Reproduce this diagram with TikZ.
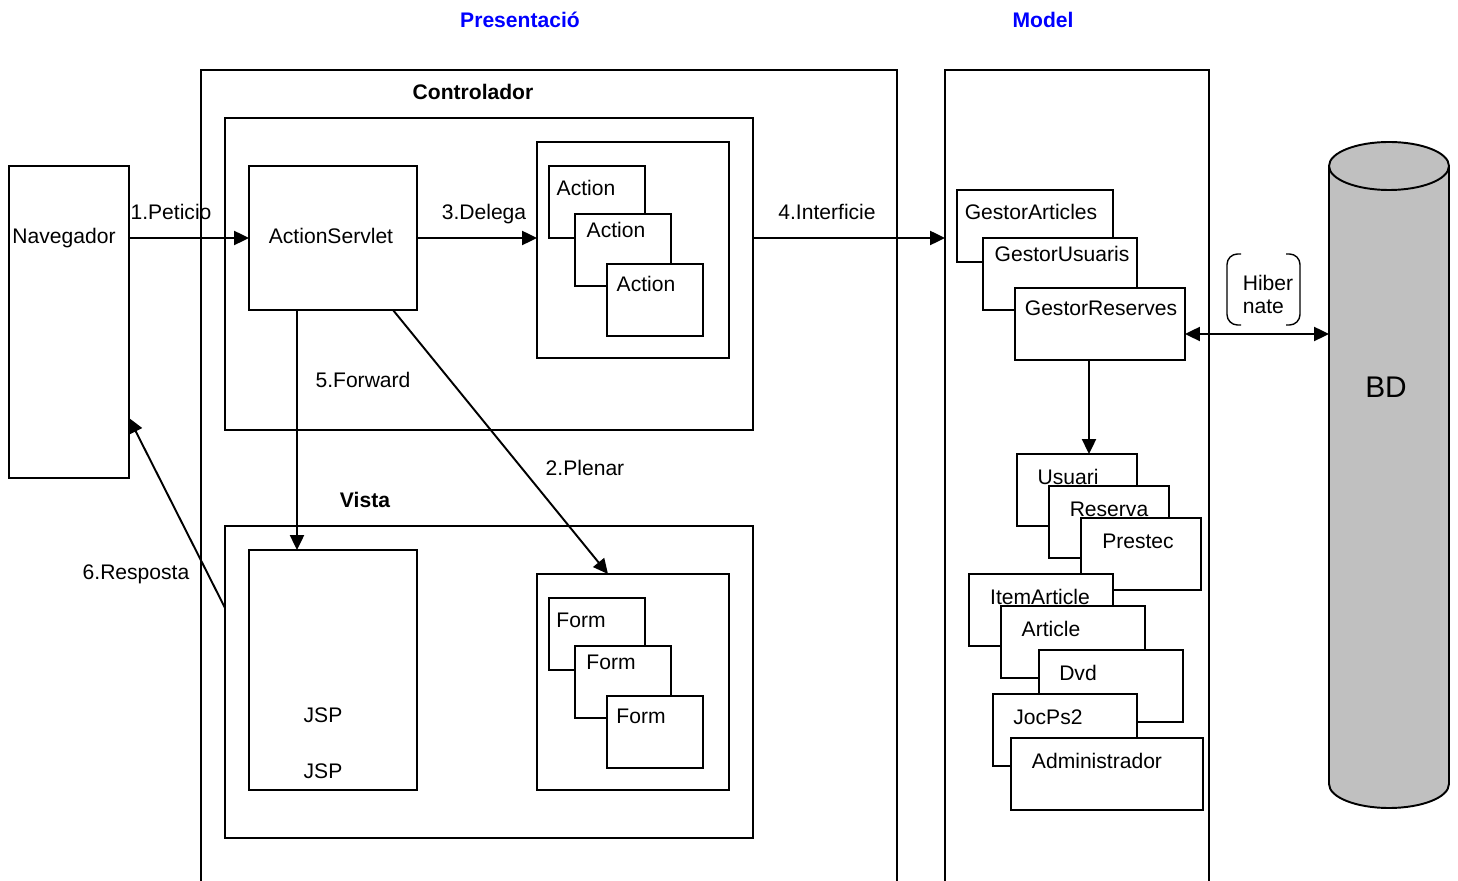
\documentclass[tikz,border=0pt]{standalone}
\usepackage{fontspec}
\setmainfont{Liberation Sans}
\usetikzlibrary{arrows.meta}

\definecolor{titleblue}{RGB}{0,0,255}
\definecolor{dbgray}{RGB}{192,192,192}

\begin{document}
\begin{tikzpicture}[x=0.02cm, y=-0.02cm, line width=1.1pt,
	font=\fontsize{12}{13.6}\selectfont,
	box/.style 2 args={draw=black, fill=white, inner sep=0pt, outer sep=0pt, minimum width=#1, minimum height=#2},
	smallbox/.style={box={1.92cm}{1.44cm}},
	lbl/.style={inner sep=0pt, text height=1.5ex, text depth=.25ex, yshift=-0.04cm},
	title/.style={lbl, font=\fontsize{12}{14}\selectfont\bfseries},
	arr/.style={-{Triangle[length=8.5pt,width=8pt]}},
	dblarr/.style={{Triangle[length=8.5pt,width=8pt]}-{Triangle[length=8.5pt,width=8pt]}}]
	
	\useasboundingbox (0,0) rectangle (1458,881);
	\clip (0,0) rectangle (1458,881);
	
	% layers
	\node[title, text=titleblue] (tpres) at (520, 20) {Presentació};
	\node[title, text=titleblue] (tmodel) at (1043, 20) {Model};
	\node[box={13.92cm}{16.6cm}, fill=none] (pres) at (549, 485) {};
	\node[box={5.28cm}{16.6cm}, fill=none] (model) at (1077, 485) {};
	
	% controlador
	\node[title] (tctrl) at (473, 92) {Controlador};
	\node[box={10.56cm}{6.24cm}] (ctrl) at (489, 274) {};
	\node[box={3.36cm}{2.88cm}] (servlet) at (333, 238) {};
	\node[lbl] (tservlet) at (331, 236) {ActionServlet};
	\node[box={3.84cm}{4.32cm}] (actbox) at (633, 250) {};
	\node[smallbox] (act1) at (597, 202) {};
	\node[lbl] (tact1) at (586, 188) {Action};
	\node[smallbox] (act2) at (623, 250) {};
	\node[lbl] (tact2) at (616, 230) {Action};
	\node[smallbox] (act3) at (655, 300) {};
	\node[lbl] (tact3) at (646, 284) {Action};
	
	% vista
	\node[title] (tvista) at (365, 500) {Vista};
	\node[box={10.56cm}{6.24cm}] (vista) at (489, 682) {};
	\node[box={3.36cm}{4.8cm}] (jsp) at (333, 670) {};
	\node[lbl] (tjsp1) at (323, 715) {JSP};
	\node[lbl] (tjsp2) at (323, 771) {JSP};
	\node[box={3.84cm}{4.32cm}] (formbox) at (633, 682) {};
	\node[smallbox] (form1) at (597, 634) {};
	\node[lbl] (tform1) at (581, 620) {Form};
	\node[smallbox] (form2) at (623, 682) {};
	\node[lbl] (tform2) at (611, 662) {Form};
	\node[smallbox] (form3) at (655, 732) {};
	\node[lbl] (tform3) at (641, 716) {Form};
	
	% navegador
	\node[box={2.4cm}{6.24cm}] (nav) at (69, 322) {};
	\node[lbl] (tnav) at (64, 236) {Navegador};
	
	% model
	\node[box={3.12cm}{1.44cm}] (gart) at (1035, 226) {};
	\node[lbl] (tgart) at (1031, 212) {GestorArticles};
	\node[box={3.08cm}{1.44cm}] (gusu) at (1060, 274) {};
	\node[lbl] (tgusu) at (1062, 254) {GestorUsuaris};
	\node[box={3.4cm}{1.44cm}] (gres) at (1100, 324) {};
	\node[lbl] (tgres) at (1101, 308) {GestorReserves};
	
	\node[box={2.4cm}{1.44cm}] (usuari) at (1077, 490) {};
	\node[lbl] (tusuari) at (1068, 477) {Usuari};
	\node[box={2.4cm}{1.44cm}] (reserva) at (1109, 522) {};
	\node[lbl] (treserva) at (1109, 509) {Reserva};
	\node[box={2.4cm}{1.44cm}] (prestec) at (1141, 554) {};
	\node[lbl] (tprestec) at (1138, 541) {Prestec};
	\node[box={2.88cm}{1.44cm}] (itemart) at (1041, 610) {};
	\node[lbl] (titemart) at (1040, 597) {ItemArticle};
	\node[box={2.88cm}{1.44cm}] (article) at (1073, 642) {};
	\node[lbl] (tarticle) at (1051, 629) {Article};
	\node[box={2.88cm}{1.44cm}] (dvd) at (1111, 686) {};
	\node[lbl] (tdvd) at (1078, 673) {Dvd};
	\node[box={2.88cm}{1.44cm}] (jocps2) at (1065, 730) {};
	\node[lbl] (tjocps2) at (1048, 717) {JocPs2};
	\node[box={3.84cm}{1.44cm}] (admin) at (1107, 774) {};
	\node[lbl] (tadmin) at (1097, 761) {Administrador};
	
	% base de dades
	\fill[dbgray] (1329,166) -- (1329,784) arc[start angle=180, end angle=360, x radius=1.2cm, y radius=0.48cm] -- (1449,166) -- cycle;
	\draw (1329,166) -- (1329,784) arc[start angle=180, end angle=360, x radius=1.2cm, y radius=0.48cm] -- (1449,166);
	\draw[fill=dbgray] (1389,166) ellipse[x radius=1.2cm, y radius=0.48cm];
	\node[lbl, font=\fontsize{17}{20}\selectfont] (bd) at (1386, 390) {BD};
	\coordinate (dbside) at (1329, 334);
	
	\node[inner sep=0pt, align=left, yshift=-0.03cm] (hib) at (1268, 293) {Hiber\\nate};
	\draw[line width=0.8pt, rounded corners=6pt] (1241,254) -- (1227,254) -- (1227,325) -- (1241,325);
	\draw[line width=0.8pt, rounded corners=6pt] (1286,254) -- (1300,254) -- (1300,325) -- (1286,325);
	
	% connectors
	\path[arr] (nav.east |- servlet) edge (servlet.west);
	\node[lbl] (l1) at (171, 212) {1.Peticio};
	\path[arr] (servlet.east) edge (servlet.east -| actbox.west);
	\node[lbl] (l3) at (484, 212) {3.Delega};
	\path[arr] (ctrl.east |- servlet) edge (model.west |- servlet);
	\node[lbl] (l4) at (827, 212) {4.Interficie};
	\path[arr] ([xshift=-0.72cm]servlet.south) edge ([xshift=-0.72cm]jsp.north);
	\node[lbl] (l5) at (363, 380) {5.Forward};
	\path[arr] ([xshift=1.2cm]servlet.south) edge ([xshift=-0.5cm]formbox.north);
	\node[lbl] (l2) at (585, 468) {2.Plenar};
	\path[arr] ([yshift=1.48cm]vista.west) edge ([yshift=-1.92cm]nav.east);
	\node[lbl] (l6) at (136, 572) {6.Resposta};
	\path[arr] ([xshift=-0.22cm]gres.south) edge ([xshift=-0.22cm]gres.south |- usuari.north);
	\path[dblarr] ([yshift=-0.2cm]gres.east) edge ([yshift=-0.2cm]gres.east -| dbside);
	
\end{tikzpicture}
\end{document}
